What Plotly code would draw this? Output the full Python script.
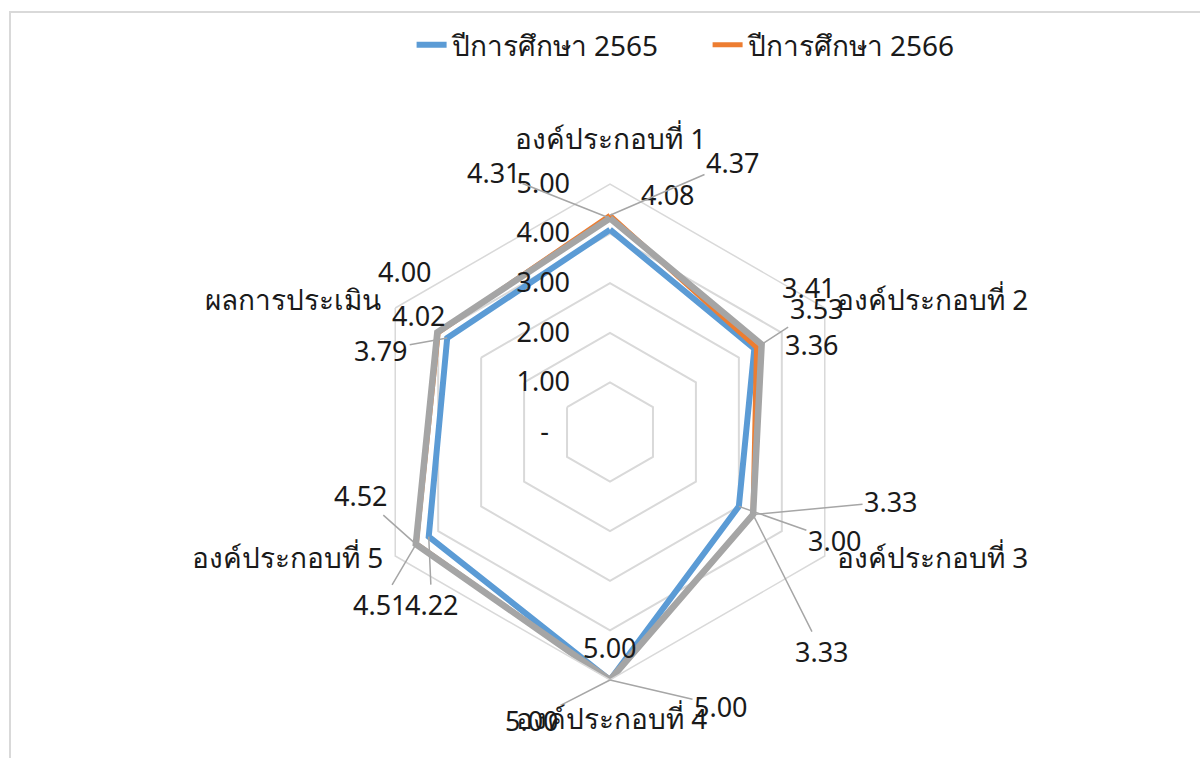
import math
import plotly.graph_objects as go

# ---------------- data ----------------
categories = ["องค์ประกอบที่ 1", "องค์ประกอบที่ 2", "องค์ประกอบที่ 3",
              "องค์ประกอบที่ 4", "องค์ประกอบที่ 5", "ผลการประเมิน"]
series_names = ["ปีการศึกษา 2565", "ปีการศึกษา 2566", "ปีการศึกษา 2567"]
values_2565 = [4.08, 3.36, 3.00, 5.00, 4.22, 3.79]
values_2566 = [4.37, 3.41, 3.33, 5.00, 4.51, 4.00]
values_other = [4.31, 3.53, 3.33, 5.00, 4.52, 4.02]
radial_tickvals = [0, 1, 2, 3, 4, 5]
radial_ticktext = ["-", "1.00", "2.00", "3.00", "4.00", "5.00"]

# ---------------- style ----------------
W, H = 1200, 758
CX, CY, R = 610, 432, 248          # polar centre and outer radius in pixels
RMAX = 5.0
colors = ["#5b9bd5", "#ed7d31", "#a5a5a5"]
widths = [6, 5, 6.5]
FONT = "Noto Sans, Tahoma, Leelawadee UI, sans-serif"
TXT = "#1a1a1a"
GRID = "#d9d9d9"

fig = go.Figure()
all_series = [values_2565, values_2566, values_other]
for i, (name, vals) in enumerate(zip(series_names, all_series)):
    fig.add_trace(go.Scatterpolar(
        r=vals + vals[:1], theta=categories + categories[:1],
        mode="lines", name=name,
        line=dict(color=colors[i], width=widths[i]),
        showlegend=(i < 2), hoverinfo="skip"))

# data-label offsets (pixels, text centre relative to the point) and leader flag
label_style = [
    # 2565
    [(58, -35, False), (58, -4, False), (96, 34, True), (0, -33, False), (3, 68, True), (-66, 12, True)],
    # 2566
    [(123, -53, True), (53, -60, False), (138, -13, True), (111, 26, True), (-36, 61, True), (-33, -61, False)],
    # other
    [(-116, -46, True), (55, -36, True), (69, 137, True), (-78, 40, True), (-55, -49, True), (-18, -17, False)],
]
# category-label placement relative to the outer vertex: (xshift, yshift, xanchor)
cat_style = [(0, 46, "center"), (10, 9, "left"), (10, -1, "left"),
             (1, -38, "center"), (-10, -1, "right"), (-12, 9, "right")]

n = len(categories)


def to_paper(r, k):
    ang = math.radians(90 - 360.0 * k / n)
    px = CX + r / RMAX * R * math.cos(ang)
    py = CY - r / RMAX * R * math.sin(ang)
    return px / W, 1 - py / H


annotations = []
for s, vals in enumerate(all_series):
    for k, v in enumerate(vals):
        ax, ay, leader = label_style[s][k]
        x, y = to_paper(v, k)
        annotations.append(dict(
            x=x, y=y, xref="paper", yref="paper", text=f"{v:.2f}",
            showarrow=True, ax=ax, ay=ay, arrowhead=0, arrowwidth=1.5,
            arrowcolor="#a6a6a6" if leader else "rgba(0,0,0,0)",
            standoff=0, startstandoff=0,
            font=dict(family=FONT, size=27, color=TXT)))

for k, cat in enumerate(categories):
    x, y = to_paper(RMAX, k)
    xs, ys, xa = cat_style[k]
    annotations.append(dict(
        x=x, y=y, xref="paper", yref="paper", text=cat, showarrow=False,
        xanchor=xa, yanchor="middle", xshift=xs, yshift=ys,
        font=dict(family=FONT, size=28, color=TXT)))

ticktext = [t + "\u00a0" * 3 if t == "-" else t for t in radial_ticktext]

fig.update_layout(
    width=W, height=H,
    paper_bgcolor="white", plot_bgcolor="white",
    margin=dict(l=0, r=0, t=0, b=0),
    polar=dict(
        domain=dict(x=[(CX - R) / W, (CX + R) / W], y=[1 - (CY + R) / H, 1 - (CY - R) / H]),
        bgcolor="white",
        gridshape="linear",
        radialaxis=dict(range=[0, RMAX], tickvals=radial_tickvals, ticktext=ticktext,
                        angle=90, tickangle=90, side="counterclockwise",
                        showline=False, showgrid=True, gridcolor=GRID, gridwidth=1.5,
                        ticks="outside", ticklen=30, tickcolor="rgba(0,0,0,0)",
                        tickfont=dict(family=FONT, size=27, color=TXT)),
        angularaxis=dict(rotation=90, direction="clockwise",
                         showgrid=False, showline=True, linecolor=GRID, linewidth=1.5,
                         showticklabels=False, ticks=""),
    ),
    legend=dict(orientation="h", x=0.343, xanchor="left", y=1 - 45 / H, yanchor="middle",
                entrywidth=251, entrywidthmode="pixels",
                font=dict(family=FONT, size=28, color=TXT), bgcolor="rgba(0,0,0,0)"),
    annotations=annotations,
    shapes=[dict(type="rect", xref="paper", yref="paper",
                 x0=10 / W, x1=1.05, y0=-0.05, y1=1 - 12 / H,
                 line=dict(color=GRID, width=2), fillcolor="rgba(0,0,0,0)", layer="below")],
)

fig.write_html("out.html", config={"displayModeBar": False},
               post_script="document.body.style.margin='0';")
